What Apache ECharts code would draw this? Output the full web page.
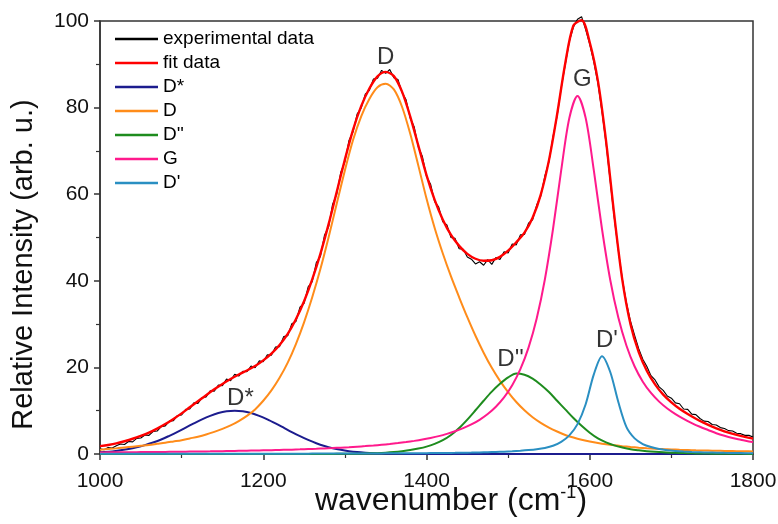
<!DOCTYPE html>
<html>
<head>
<meta charset="utf-8">
<script src="https://cdn.jsdelivr.net/npm/echarts@6/dist/echarts.min.js"></script>
<style>html,body{margin:0;padding:0;background:#fff}#c{width:778px;height:524px}</style>
</head>
<body>
<div id="c"></div>
<script>
// sampling positions (cm^-1)
const wnA = Array.from({ length: 81 }, (_, i) => 1000 + 10 * i);                 // 1000..1800 step 10
const wnB = [1000].concat(Array.from({ length: 80 }, (_, i) => 1005 + 10 * i), [1800]); // 1000,1005..1795,1800
const wnExp = Array.from({ length: 161 }, (_, i) => 1000 + 5 * i);              // 1000..1800 step 5

// fit data (grid A)
const fitData = [1.81,2.09,2.45,2.95,3.52,4.19,4.95,5.87,6.92,8.11,
  9.38,10.78,12.17,13.58,14.93,16.18,17.31,18.35,19.29,20.31,
  21.63,23.19,25.18,27.73,31.11,35.27,40.33,46.23,53.03,60.51,
  67.99,74.87,80.34,84.4,87.22,88.26,87.27,83.68,77.99,71.22,
  64.42,58.69,54.12,50.58,48.07,46.22,45.09,44.62,44.74,45.53,
  46.96,48.89,51.11,54.57,59.92,67.81,78.41,90.24,98.96,100.16,
  95.04,86.16,72.26,55.2,40.1,29.92,23.52,19.19,16.08,13.71,
  11.93,10.44,9.22,8.13,7.18,6.32,5.57,4.94,4.42,3.96,3.55];
// D band (grid A)
const dBand = [1.0,1.15,1.3,1.5,1.7,1.9,2.1,2.35,2.6,2.9,
  3.2,3.6,4.0,4.5,5.1,5.8,6.6,7.6,8.8,10.3,
  12.3,14.7,17.6,21.1,25.4,30.4,36.2,42.7,50.0,57.8,
  65.5,72.5,78.0,82.0,84.7,85.5,84.2,80.2,74.0,66.6,
  59.0,52.2,46.3,41.0,36.2,31.6,27.3,23.4,19.9,16.9,
  14.3,12.0,10.1,8.5,7.2,6.1,5.2,4.4,3.8,3.3,
  2.9,2.55,2.25,2.0,1.8,1.62,1.47,1.34,1.23,1.13,
  1.05,0.98,0.92,0.86,0.81,0.77,0.73,0.69,0.66,0.63,0.6];
// D'' band (grid A)
const dDouble = [0,0,0,0,0,0,0,0,0,0,
  0,0,0,0,0,0,0,0,0,0,
  0,0,0,0,0,0,0,0,0,0.03,
  0.05,0.07,0.1,0.15,0.2,0.3,0.45,0.65,0.9,1.25,
  1.7,2.35,3.2,4.4,6.0,7.95,10.1,12.3,14.4,16.2,
  17.7,18.6,18.3,17.4,16.0,14.3,12.3,10.3,8.3,6.5,
  4.9,3.6,2.7,2.0,1.5,1.1,0.85,0.65,0.5,0.38,
  0.3,0.23,0.18,0.14,0.1,0.08,0.06,0.05,0.04,0.03,0.02];
// D* band (grid B)
const dStar = [0.4,0.45,0.6,0.85,1.15,1.55,2.05,2.65,3.35,4.2,5.1,
  6.1,7.07,8.01,8.82,9.46,9.86,10.0,9.86,9.46,8.82,
  8.01,7.07,6.07,5.06,4.11,3.25,2.49,1.86,1.35,0.96,
  0.66,0.44,0.29,0.18,0.11,0.07,0.04,0.02,0.01,0,
  0,0,0,0,0,0,0,0,0,0,
  0,0,0,0,0,0,0,0,0,0,
  0,0,0,0,0,0,0,0,0,0,
  0,0,0,0,0,0,0,0,0,0,0];
// G band (grid B)
const gBand = [0.365,0.37,0.385,0.4,0.415,0.43,0.445,0.46,0.48,0.5,0.52,
  0.54,0.565,0.59,0.615,0.645,0.675,0.71,0.745,0.78,0.82,
  0.86,0.91,0.96,1.01,1.07,1.14,1.21,1.29,1.37,1.47,
  1.57,1.69,1.82,1.96,2.13,2.31,2.52,2.76,3.03,3.34,
  3.71,4.13,4.64,5.24,5.96,6.83,7.9,9.23,10.92,13.07,
  15.88,19.59,24.56,31.28,40.31,51.96,65.48,77.6,82.7,77.6,
  65.48,51.96,40.31,31.5,25.0,20.2,16.7,14.1,12.1,10.5,
  9.2,8.1,7.15,6.3,5.55,4.8,4.2,3.7,3.3,2.9,2.75];
// D' band (grid B)
const dPrime = [0.04,0.04,0.04,0.045,0.045,0.05,0.05,0.05,0.05,0.05,0.05,
  0.05,0.05,0.052,0.054,0.056,0.058,0.06,0.062,0.065,0.067,
  0.07,0.072,0.075,0.078,0.08,0.085,0.09,0.095,0.1,0.105,
  0.11,0.12,0.125,0.13,0.14,0.15,0.16,0.17,0.18,0.19,
  0.21,0.23,0.25,0.27,0.3,0.33,0.37,0.41,0.47,0.54,
  0.63,0.75,0.9,1.1,1.4,1.9,2.8,4.3,6.9,11.5,
  18.4,22.6,19.0,12.0,6.2,3.6,2.3,1.6,1.15,0.88,
  0.7,0.57,0.47,0.4,0.34,0.3,0.26,0.23,0.21,0.19,0.18];
// experimental spectrum (step 5)
const expData = [1.2,1.0,1.5,1.4,1.9,2.3,2.2,2.9,2.8,3.6,3.7,4.4,4.3,5.2,5.3,6.3,6.5,7.6,7.7,8.9,
  9.0,10.3,10.4,11.8,11.7,13.0,13.2,14.6,14.5,15.9,15.8,17.3,16.9,18.4,18.0,19.1,19.0,20.3,19.9,21.5,
  21.3,22.9,22.8,24.7,24.8,27.1,27.3,30.1,30.6,33.9,34.8,38.6,39.8,44.2,45.6,50.5,52.4,57.7,60.0,65.1,
  67.5,72.4,74.4,78.5,79.9,83.1,84.0,86.6,86.8,88.6,87.9,88.8,86.9,86.5,83.5,81.8,77.6,75.5,70.9,68.7,
  64.1,62.3,58.3,57.0,53.6,52.9,50.0,49.8,47.4,47.3,45.5,45.0,43.9,44.4,43.6,44.9,43.8,45.4,44.9,46.7,
  46.4,48.5,48.3,50.6,50.7,53.3,54.1,57.5,59.6,64.2,67.5,73.3,78.0,84.5,89.9,95.3,98.6,100.4,101.0,98.0,
  94.6,90.5,85.6,79.0,71.7,63.1,54.6,47.0,40.3,34.9,30.6,27.4,24.3,21.9,20.2,18.1,17.1,15.5,14.7,13.4,
  12.9,11.8,11.6,10.4,10.3,9.2,9.1,8.2,7.6,7.5,6.8,6.7,6.1,5.9,5.4,5.3,4.8,4.7,4.3,4.3,3.9];

const xTicks = [1000, 1200, 1400, 1600, 1800];
const yTicks = [0, 20, 40, 60, 80, 100];
const seriesNames = ['experimental data', 'fit data', 'D*', 'D', 'D\'\'', 'G', 'D\''];
const peakNames = ['D*', 'D', 'D\'\'', 'G', 'D\''];
const peakAt = [[1172, 12.9], [1350, 91.7], [1503, 21.9], [1591, 86.6], [1621, 26.3]];

const FONT = 'Arial, "Liberation Sans", sans-serif';
const colors = ['#000000', '#ff0000', '#1c1c8e', '#ff8c1a', '#1e8c1e', '#ff1a8c', '#2a8fc2'];
const pair = (xs, ys) => xs.map((x, i) => [x, ys[i]]);
const curves = [pair(wnExp, expData), pair(wnA, fitData), pair(wnB, dStar), pair(wnA, dBand),
  pair(wnA, dDouble), pair(wnB, gBand), pair(wnB, dPrime)];

const series = curves.map((d, i) => ({
  name: seriesNames[i], type: 'line', data: d, showSymbol: false, symbol: 'none',
  smooth: i === 0 ? false : 0.3,
  lineStyle: { color: colors[i], width: i === 0 ? 1.1 : (i === 1 ? 2.4 : 2) },
  itemStyle: { color: colors[i] },
  z: i === 0 ? 2 : (i === 1 ? 3 : 4),
  clip: false
}));
series.push({
  type: 'scatter', name: 'labels', symbolSize: 0, silent: true, z: 6,
  data: peakAt.map((p, i) => ({ value: p, name: peakNames[i] })),
  label: { show: true, position: 'inside', formatter: p => p.name, color: '#000', fontSize: 24, fontFamily: FONT }
});

const axisCommon = {
  axisLine: { show: true, lineStyle: { color: '#333', width: 1.5 } },
  axisTick: { show: true, inside: false, length: 6, lineStyle: { color: '#333', width: 1.5 } },
  minorTick: { show: true, splitNumber: 2, length: 4, lineStyle: { color: '#333', width: 1.2 } },
  splitLine: { show: false }
};

const chart = echarts.init(document.getElementById('c'), null, { renderer: 'canvas' });
chart.setOption({
  animation: false,
  backgroundColor: '#fff',
  grid: { left: 100, right: 25, top: 21, bottom: 70, containLabel: false, outerBoundsMode: 'none',
    show: true, borderColor: '#333', borderWidth: 1.5, backgroundColor: 'transparent' },
  legend: {
    data: seriesNames.map(n => ({ name: n, icon: 'rect' })),
    orient: 'vertical', left: 110, top: 24, itemWidth: 43, itemHeight: 2.5, itemGap: 4,
    textStyle: { fontSize: 19, fontFamily: FONT, color: '#000', lineHeight: 20 }
  },
  xAxis: Object.assign({
    type: 'value', min: xTicks[0], max: xTicks[xTicks.length - 1], interval: 200,
    name: 'wavenumber (cm{sup|-1})', nameLocation: 'middle', nameGap: 30, nameMoveOverlap: false,
    nameTextStyle: { fontSize: 32, fontFamily: FONT, color: '#111', padding: [0, 0, 0, 49],
      rich: { sup: { fontSize: 18, verticalAlign: 'top', padding: [0, 0, 16, 0], fontFamily: FONT, color: '#111' } } },
    axisLabel: { fontSize: 21, fontFamily: FONT, color: '#111', margin: 17, formatter: v => String(v) }
  }, axisCommon),
  yAxis: Object.assign({
    type: 'value', min: yTicks[0], max: yTicks[yTicks.length - 1], interval: 20,
    name: 'Relative Intensity (arb. u.)', nameLocation: 'middle', nameGap: 62, nameRotate: 90, nameMoveOverlap: false,
    nameTextStyle: { fontSize: 29, fontFamily: FONT, color: '#111', padding: [0, 54, 0, 0] },
    axisLabel: { fontSize: 21, fontFamily: FONT, color: '#111', margin: 11, formatter: v => String(v) }
  }, axisCommon),
  series: series
});
</script>
</body>
</html>
